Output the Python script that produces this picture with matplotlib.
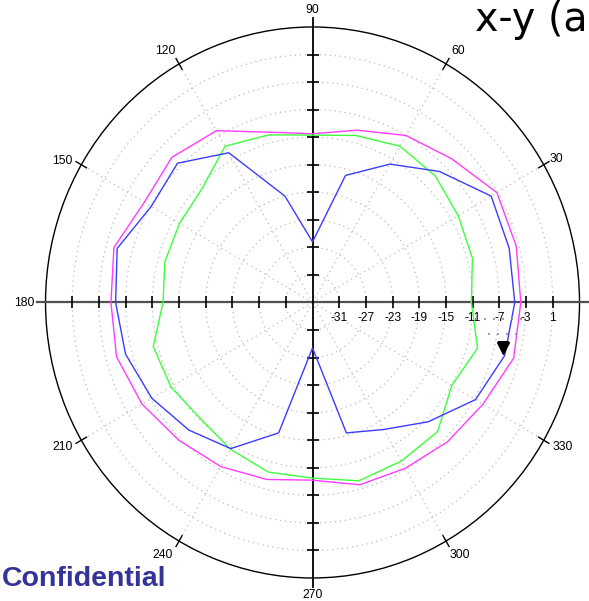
import numpy as np
import matplotlib
matplotlib.use("Agg")
import matplotlib.pyplot as plt
from matplotlib.lines import Line2D
from matplotlib.transforms import ScaledTranslation

# Pattern cuts, one value every 15 degrees (dB)
angles_deg = np.arange(0, 360, 15)
magenta_db = [-3.8, -3.4, -3.1, -5.5, -7.0, -9.1, -10.5, -9.4, -6.2, -5.2, -5.9, -4.2,
              -4.8, -4.6, -5.5, -6.7, -7.5, -8.4, -9.2, -7.6, -7.2, -6.4, -5.5, -3.8]
blue_db = [-4.7, -4.5, -4.1, -8.1, -11.8, -15.9, -26.2, -19.0, -9.9, -6.4, -7.1, -4.7,
           -5.5, -6.0, -7.2, -8.8, -10.5, -15.4, -28.4, -15.4, -13.7, -10.5, -6.8, -5.2]
green_db = [-11.2, -10.2, -9.8, -9.0, -8.8, -9.9, -10.7, -9.8, -8.8, -11.6, -12.0, -12.1,
            -12.6, -10.3, -10.5, -11.2, -10.4, -9.5, -9.5, -8.2, -8.4, -8.5, -10.9, -9.4]

r_ticks = [-31, -27, -23, -19, -15, -11, -7, -3, 1]
r_min, r_max = -35, 5
angle_ticks = [0, 30, 60, 90, 120, 150, 180, 210, 240, 270, 300, 330]
marker_idx = 23  # marker sits on the blue trace at 345 deg

plt.rcParams["font.family"] = ["Liberation Sans", "DejaVu Sans"]

fig = plt.figure(figsize=(5.89, 6.01), dpi=100)
ax = fig.add_axes([0.0773, 0.0383, 0.9066, 0.9168], projection="polar")
ax.set_aspect("auto")
ax.set_ylim(r_min, r_max)

ax.set_xticks(np.deg2rad(angle_ticks))
ax.set_xticklabels([""] * len(angle_ticks))
ax.set_yticks(r_ticks)
ax.set_yticklabels([""] * len(r_ticks))
ax.tick_params(length=0)
ax.grid(True, color="#bcbcbc", linestyle=(0, (1, 3)), linewidth=0.9)
ax.spines["polar"].set_linewidth(1.0)
ax.spines["polar"].set_color("black")

theta = np.deg2rad(angles_deg)
theta_c = np.append(theta, theta[0])


def closed(v):
    return np.append(v, v[0])


ax.plot(theta_c, closed(magenta_db), color="#ff3cff", lw=1.0, zorder=4)
ax.plot(theta_c, closed(green_db), color="#3cff3c", lw=1.0, zorder=4)
ax.plot(theta_c, closed(blue_db), color="#3c3cff", lw=1.0, zorder=4)

# Cross-hair axes through the centre
r_ext = 6.3
for th in (0, np.pi):
    ax.plot([th, th], [r_min, r_ext], color="#505050", lw=1.6, clip_on=False, zorder=3)
    ax.plot(np.full(len(r_ticks), th), r_ticks, ls="none", marker="|", ms=9,
            mew=1.2, color="black", clip_on=False, zorder=3)
for th in (np.pi / 2, 3 * np.pi / 2):
    ax.plot([th, th], [r_min, r_ext], color="black", lw=1.3, clip_on=False, zorder=3)
    ax.plot(np.full(len(r_ticks), th), r_ticks, ls="none", marker="_", ms=9,
            mew=1.2, color="black", clip_on=False, zorder=3)

# Short ticks across the outer ring
for a in angle_ticks:
    if a % 90:
        th = np.deg2rad(a)
        ax.plot([th, th], [r_max - 0.9, r_max + 0.9], color="black", lw=1.0,
                clip_on=False, zorder=3)

# Radial scale labels along the 0 deg axis
for r in r_ticks:
    ax.annotate(f"{r}", xy=(0, r), xytext=(0, -10), textcoords="offset pixels",
                ha="center", va="top", fontsize=8.6, zorder=5)

# Angle labels round the ring
label_offsets = {
    30: (13, 5.5), 60: (12, 12.8), 90: (0, 17), 120: (-14, 12.8),
    150: (-19, 3.5), 180: (-21.5, -1), 210: (-19, -6.5), 240: (-16, -13.5),
    270: (0, -17), 300: (14, -13.5), 330: (19, -6.5),
}
for a, (dx, dy) in label_offsets.items():
    ax.annotate(f"{a}", xy=(np.deg2rad(a), r_max), xytext=(dx, dy),
                textcoords="offset pixels", ha="center", va="center",
                fontsize=8.7, annotation_clip=False)

# Marker on the blue trace
shift = ScaledTranslation(-1.8 / 100, 8.0 / 100, fig.dpi_scale_trans)
ax.plot(theta[marker_idx], blue_db[marker_idx], marker="v", ms=8.7, color="black",
        ls="none", transform=ax.transData + shift, zorder=6)

# Marker readout dots
for x0, x1, y in ((475, 527, 318.5), (488, 517, 334.5)):
    fig.add_artist(Line2D([x0 / 589, x1 / 589], [1 - y / 601, 1 - y / 601],
                          transform=fig.transFigure, color="#8a8a8a", lw=1.3,
                          linestyle=(0, (1, 4))))

fig.text(1 - 1.5 / 589, 1 - 30.5 / 601, "x-y (a", fontsize=28.5, ha="right",
         va="baseline", color="black", family="DejaVu Sans")
fig.text(2 / 589, 15.3 / 601, "Confidential", fontsize=20.5, fontweight="bold",
         color="#333399", ha="left", va="baseline")

fig.savefig("out.png", dpi=100)
